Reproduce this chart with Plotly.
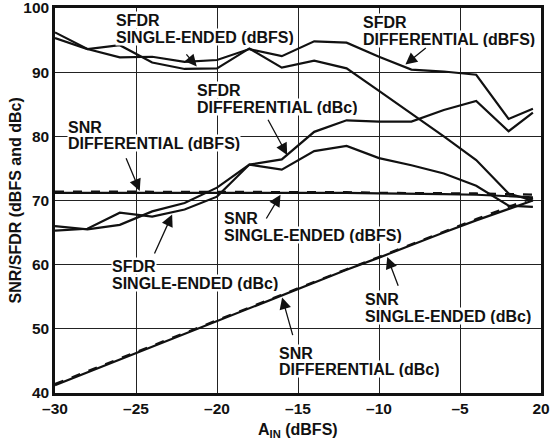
import plotly.graph_objects as go

# ---------------- data ----------------
x_ain = [-30, -28, -26, -24, -22, -20, -18, -16, -14, -12, -10, -8, -6, -4, -2, -0.5]

sfdr_diff_dbfs = [96.2, 93.6, 92.3, 92.4, 91.6, 91.9, 93.6, 92.5, 94.8, 94.6, 92.4, 90.4, 90.1, 89.6, 82.7, 84.3]
sfdr_se_dbfs   = [95.3, 93.6, 94.2, 91.5, 90.5, 90.6, 93.7, 90.7, 91.8, 90.6, 87.1, 83.6, 80.0, 76.3, 71.1, 70.0]
sfdr_diff_dbc  = [66.0, 65.5, 66.2, 68.3, 69.6, 72.0, 75.6, 76.4, 80.7, 82.5, 82.3, 82.3, 84.1, 85.5, 80.8, 83.7]
sfdr_se_dbc    = [65.3, 65.6, 68.1, 67.5, 68.6, 70.6, 75.6, 74.8, 77.7, 78.5, 76.6, 75.5, 74.2, 72.3, 69.2, 69.0]
snr_se_dbfs    = [71.2, 71.2, 71.2, 71.2, 71.3, 71.3, 71.3, 71.2, 71.2, 71.2, 71.1, 71.1, 71.0, 70.9, 70.7, 70.5]
snr_diff_dbfs  = [71.4, 71.4, 71.4, 71.4, 71.3, 71.3, 71.3, 71.3, 71.3, 71.3, 71.2, 71.2, 71.1, 71.1, 71.0, 70.9]
snr_se_dbc     = [41.2, 43.2, 45.2, 47.2, 49.3, 51.3, 53.3, 55.2, 57.2, 59.2, 61.1, 63.1, 65.0, 66.9, 68.7, 70.0]
snr_diff_dbc   = [41.4, 43.4, 45.4, 47.4, 49.3, 51.3, 53.3, 55.3, 57.3, 59.3, 61.2, 63.2, 65.1, 67.1, 69.0, 70.4]

x_tickvals = [-30, -25, -20, -15, -10, -5, 0]
x_ticktext = ["\u201330", "\u201325", "\u201320", "\u201315", "\u201310", "\u20135", "20"]
y_tickvals = [40, 50, 60, 70, 80, 90, 100]

# label: (line1, line2, x_left, y_line1, y_line2, arrow_tip_x, arrow_tip_y, arrow_tail_x, arrow_tail_y)
labels = [
    ("SFDR", "SINGLE-ENDED (dBFS)", -26.30, 98.13, 95.48, -21.25, 90.9, -21.97, 93.0),
    ("SFDR", "DIFFERENTIAL (dBFS)", -11.05, 97.82, 95.17, -8.37, 91.2, -7.02, 93.97),
    ("SFDR", "DIFFERENTIAL (dBc)", -21.30, 87.22, 84.57, -15.67, 77.1, -16.9, 82.81),
    ("SNR", "DIFFERENTIAL (dBFS)", -29.26, 81.50, 78.96, -24.77, 71.5, -25.65, 76.83),
    ("SNR", "SINGLE-ENDED (dBFS)", -19.63, 67.27, 64.62, -16.08, 70.9, -17.01, 66.96),
    ("SFDR", "SINGLE-ENDED (dBc)", -26.54, 59.85, 57.19, -22.77, 67.8, -23.9, 61.5),
    ("SNR", "SINGLE-ENDED (dBc)", -10.93, 54.65, 52.0, -9.49, 61.2, -8.78, 56.47),
    ("SNR", "DIFFERENTIAL (dBc)", -16.23, 46.24, 43.74, -15.98, 54.9, -15.3, 48.78),
]

FONT = "Liberation Sans, Arial, Helvetica, sans-serif"
INK = "#111111"

fig = go.Figure()

series = [
    (sfdr_diff_dbfs, "solid"),
    (sfdr_se_dbfs, "solid"),
    (sfdr_diff_dbc, "solid"),
    (sfdr_se_dbc, "solid"),
    (snr_se_dbfs, "solid"),
    (snr_diff_dbfs, "dash"),
    (snr_se_dbc, "solid"),
    (snr_diff_dbc, "dash"),
]
for ys, dash in series:
    fig.add_trace(go.Scatter(
        x=x_ain, y=ys, mode="lines",
        line=dict(color=INK, width=2.2, dash=dash),
        showlegend=False, hoverinfo="skip",
    ))

annotations = []
for l1, l2, xl, y1, y2, tx, ty, ax, ay in labels:
    for txt, yy in ((l1, y1), (l2, y2)):
        annotations.append(dict(
            x=xl, y=yy, xref="x", yref="y", text=txt, showarrow=False,
            xanchor="left", yanchor="middle", height=16, valign="middle",
            font=dict(family=FONT, size=16, color=INK, weight="bold"),
            bgcolor="white", borderpad=0,
        ))
    annotations.append(dict(
        x=tx, y=ty, xref="x", yref="y", ax=ax, ay=ay, axref="x", ayref="y",
        text="", showarrow=True, arrowhead=2, arrowsize=1.8, arrowwidth=1.3,
        arrowcolor=INK, standoff=0, startstandoff=0,
    ))

annotations.append(dict(
    x=0, y=0.5, xref="paper", yref="paper", xshift=-40,
    text="SNR/SFDR (dBFS and dBc)", textangle=-90, showarrow=False,
    xanchor="center", yanchor="middle",
    font=dict(family=FONT, size=16, color=INK, weight="bold"),
))
annotations.append(dict(
    x=0.5, y=0, xref="paper", yref="paper", yshift=-37,
    text="A<sub>IN</sub> (dBFS)", showarrow=False,
    xanchor="center", yanchor="middle",
    font=dict(family=FONT, size=16, color=INK, weight="bold"),
))

fig.update_layout(
    width=551, height=445,
    margin=dict(l=55, r=10, t=8, b=52, autoexpand=False),
    paper_bgcolor="white", plot_bgcolor="white",
    annotations=annotations,
    showlegend=False,
)
fig.update_xaxes(
    range=[-30, 0], tickvals=x_tickvals, ticktext=x_ticktext,
    showgrid=True, gridcolor="#222222", gridwidth=1,
    showline=True, linecolor=INK, linewidth=2.5, mirror=True,
    ticks="", zeroline=False, automargin=False, ticklabeloverflow="allow",
    tickfont=dict(family=FONT, size=15.5, color=INK, weight="bold"),
)
fig.update_yaxes(
    range=[40, 100], tickvals=y_tickvals,
    showgrid=True, gridcolor="#222222", gridwidth=1,
    showline=True, linecolor=INK, linewidth=2.5, mirror=True,
    ticks="", zeroline=False, automargin=False, ticklabeloverflow="allow",
    tickfont=dict(family=FONT, size=15.5, color=INK, weight="bold"),
)

# remove the default 8px page margin so the figure fills the window exactly
fig.write_html("out.html", config={"displayModeBar": False},
               post_script="document.body.style.margin='0';")
